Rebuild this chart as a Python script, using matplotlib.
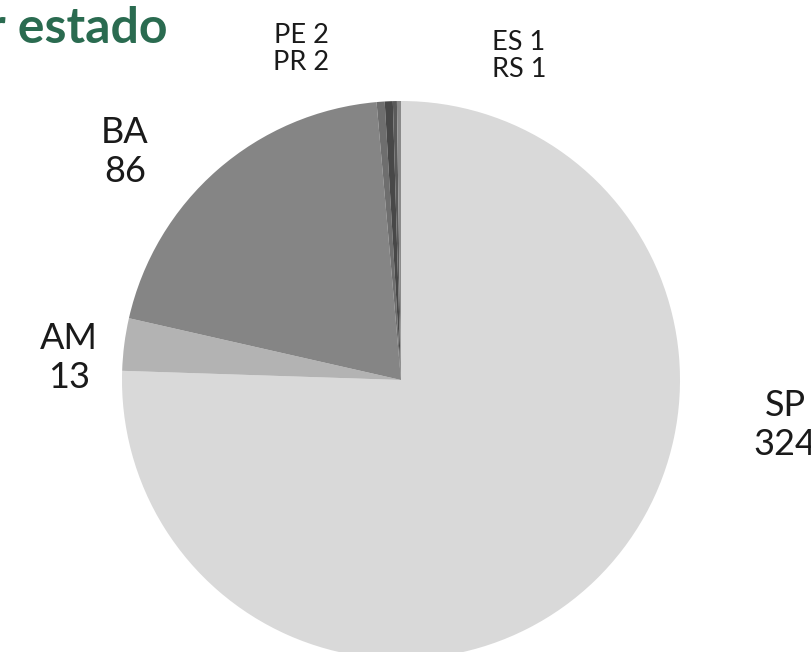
import matplotlib

matplotlib.use("Agg")
import matplotlib.pyplot as plt

plt.rcParams["font.family"] = ["Lato", "DejaVu Sans"]

# data (clockwise from 12 o'clock)
states = ["SP", "AM", "BA", "PE", "PR", "ES", "RS"]
cases = [324, 13, 86, 2, 2, 1, 1]
colors = ["#d9d9d9", "#b3b3b3", "#858585", "#6e6e6e", "#484848", "#5a5a5a", "#8a8a8a"]

W, H = 812, 652
cx, cy, r = 401, 380, 279  # pie centre / radius in pixels


def px(x, y):
    """pixel position -> data coords (pie centre at 0,0, radius 1)"""
    return (x - cx) / r, (cy - y) / r


fig = plt.figure(figsize=(W / 100, H / 100), dpi=100)
ax = fig.add_axes([0, 0, 1, 1])
ax.pie(cases, colors=colors, startangle=90, counterclock=False, radius=1,
       wedgeprops=dict(linewidth=0))
ax.set_xlim(-cx / r, (W - cx) / r)
ax.set_ylim(-(H - cy) / r, cy / r)
ax.set_aspect("equal")
ax.axis("off")

big = dict(fontsize=26, ha="center", va="center", linespacing=1.2, color="#1a1a1a")
small = dict(fontsize=19.5, ha="center", va="center", linespacing=1.1, color="#1a1a1a")
ax.text(*px(125, 152), f"{states[2]}\n{cases[2]}", **big)
ax.text(*px(69, 358), f"{states[1]}\n{cases[1]}", **big)
ax.text(*px(785, 425), f"{states[0]}\n{cases[0]}", **big)
ax.text(*px(301, 49), f"{states[3]} {cases[3]}\n{states[4]} {cases[4]}", **small)
ax.text(*px(519, 56), f"{states[5]} {cases[5]}\n{states[6]} {cases[6]}", **small)

# title is cropped at the left edge in the original
fig.text(168 / W, 1 - 43 / H, "Casos por estado", fontsize=36, fontweight="bold",
         color="#2a6b50", ha="right", va="baseline")

fig.savefig("out.png", dpi=100)
